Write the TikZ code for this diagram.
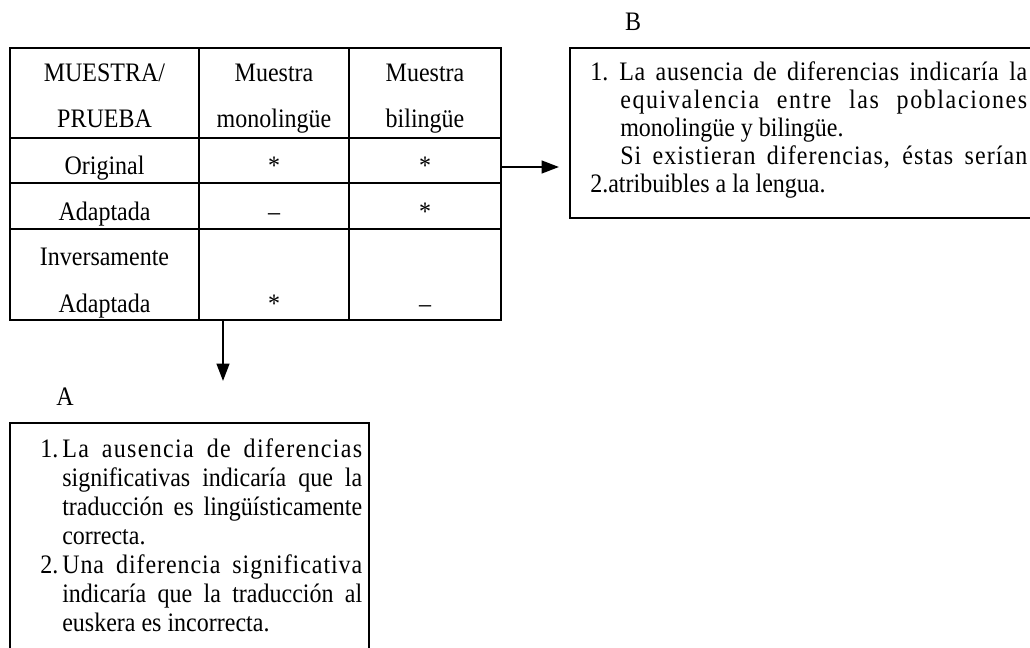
\documentclass[tikz,border=0pt]{standalone}
\usepackage{fontspec}
\setmainfont[FakeStretch=0.9]{Liberation Serif}
\usetikzlibrary{arrows.meta}

% renglones justificados, espaciados y con sangría francesa
\newcommand{\justo}[2]{\makebox[#1][s]{#2}}
\newcommand{\espaciado}[2]{{\addfontfeature{LetterSpace=#1}#2}}
\newcommand{\numA}[1]{\makebox[16.5pt][l]{#1}}
\newcommand{\numB}[1]{\makebox[21.75pt][l]{#1}}

\tikzset{
  linea/.style={line width=1.8pt},
  flecha/.style={line width=1.6pt,-{Triangle[length=13pt,width=9.5pt]}},
  celda/.style={font=\fontsize{20}{23}\selectfont, anchor=base, inner sep=0pt},
  letra/.style={font=\fontsize{20}{23}\selectfont, anchor=base, inner sep=0pt},
  textoA/.style={font=\fontsize{20}{21.75}\selectfont, align=left, anchor=north west, inner sep=0pt},
  textoB/.style={font=\fontsize{20}{21}\selectfont, align=left, anchor=north west, inner sep=0pt}
}

\begin{document}
\begin{tikzpicture}[x=0.75pt,y=-0.75pt]
\useasboundingbox (0,0) rectangle (1030,648);
\clip (0,0) rectangle (1030,648);
% tabla muestra / prueba
\draw[linea] (10,48) rectangle (501,320);
\draw[linea] (199,48) -- (199,320) (349,48) -- (349,320);
\draw[linea] (10,138) -- (501,138) (10,183) -- (501,183) (10,229) -- (501,229);
% cabecera
\node[celda] (cabMuestra) at (104.5,82) {MUESTRA/};
\node[celda] (cabPrueba) at (104.5,128) {PRUEBA};
\node[celda] (cabMono1) at (274,82) {Muestra};
\node[celda] (cabMono2) at (274,128) {monolingüe};
\node[celda] (cabBil1) at (425,82) {Muestra};
\node[celda] (cabBil2) at (425,128) {bilingüe};
% filas
\node[celda] (original) at (104.5,175) {Original};
\node[celda] (origMono) at (274,175) {*};
\node[celda] (origBil) at (425,175) {*};
\node[celda] (adaptada) at (104.5,221) {Adaptada};
\node[celda] (adapMono) at (274,221) {–};
\node[celda] (adapBil) at (425,221) {*};
\node[celda] (inversa1) at (104.5,266) {Inversamente};
\node[celda] (inversa2) at (104.5,312) {Adaptada};
\node[celda] (invMono) at (274,312) {*};
\node[celda] (invBil) at (425,312) {–};
% flechas hacia A y B
\coordinate (iniB) at (501,167);
\coordinate (finB) at (559,167);
\coordinate (iniA) at (223,320);
\coordinate (finA) at (223,381);
\draw[flecha] (iniB) -- (finB);
\draw[flecha] (iniA) -- (finA);
% caja B
\node[letra] (etiqB) at (633,31) {B};
\draw[linea] (570,48) rectangle (1050,218);
\node[textoB] (textoB) at (590,61) {%
\numB{1.}\justo{306pt}{\espaciado{2.5}{La ausencia de diferencias indicaría la}}\\
\hspace*{22.5pt}\justo{305.25pt}{\espaciado{6}{equivalencia entre las poblaciones}}\\
\hspace*{22.5pt}monolingüe y bilingüe.\\
\hspace*{22.5pt}\justo{305.25pt}{\espaciado{4}{Si existieran diferencias, éstas serían}}\\
2.atribuibles a la lengua.};
% caja A
\node[letra] (etiqA) at (65,405) {A};
\draw[linea] (10,423) rectangle (369,670);
\node[textoA] (textoA) at (40,438) {%
\numA{1.}\justo{225pt}{\espaciado{5}{La ausencia de diferencias}}\\
\hspace*{16.5pt}\justo{225pt}{significativas indicaría que la}\\
\hspace*{16.5pt}\justo{225pt}{traducción es lingüísticamente}\\
\hspace*{16.5pt}correcta.\\
\numA{2.}\justo{225pt}{\espaciado{3.5}{Una diferencia significativa}}\\
\hspace*{16.5pt}\justo{225pt}{indicaría que la traducción al}\\
\hspace*{16.5pt}euskera es incorrecta.};
\end{tikzpicture}
\end{document}
